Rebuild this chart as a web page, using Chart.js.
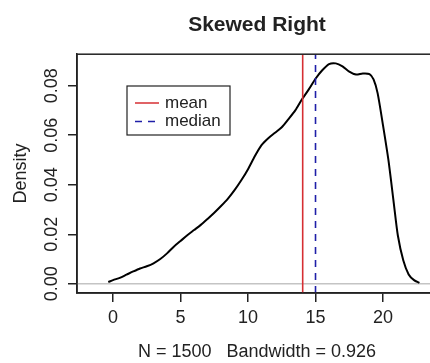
<!DOCTYPE html>
<html>
<head>
<meta charset="utf-8">
<title>Skewed Right</title>
<script src="https://cdn.jsdelivr.net/npm/chart.js@4/dist/chart.umd.min.js"></script>
<style>
    html, body { margin: 0; padding: 0; background: #fff; overflow: hidden; }
    canvas { display: block; }
</style>
</head>
<body>
<canvas id="c" width="445" height="363"></canvas>
<script>
// density estimate
const densityX = [-0.35, 0, 0.5, 1, 1.5, 2, 2.5, 3, 3.5, 4, 4.5, 5, 5.5, 6, 6.5, 7, 7.5, 8, 8.5, 9,
    9.5, 10, 10.5, 11, 11.5, 12, 12.5, 13, 13.5, 14, 14.5, 15, 15.5, 16, 16.5, 17, 17.5, 18, 18.5, 19,
    19.3, 19.6, 20, 20.4, 20.8, 21.1, 21.5, 21.9, 22.3, 22.7];
const densityY = [0.0007, 0.0015, 0.0024, 0.0037, 0.0050, 0.0062, 0.0071, 0.0083, 0.0100, 0.0123,
    0.0150, 0.0173, 0.0196, 0.0217, 0.0238, 0.0262, 0.0287, 0.0314, 0.0343, 0.0378,
    0.0418, 0.0463, 0.0515, 0.0560, 0.0588, 0.0610, 0.0632, 0.0665, 0.0700, 0.0745,
    0.0785, 0.0828, 0.0862, 0.0887, 0.0890, 0.0878, 0.0857, 0.0845, 0.0849, 0.0847,
    0.0825, 0.0770, 0.0640, 0.0500, 0.0325, 0.0195, 0.0095, 0.0038, 0.0015, 0.0004];

const meanValue = 14.05;
const medianValue = 15.0;

const xTicks = [0, 5, 10, 15, 20];
const yTicks = [0, 0.02, 0.04, 0.06, 0.08];
const xRange = [-2.67, 24.0];
const yRange = [-0.0037, 0.0927];

const legendLabels = ['mean', 'median'];

const TITLE = 'Skewed Right';
const X_LABEL = 'N = 1500   Bandwidth = 0.926';
const Y_LABEL = 'Density';

const FONT = "'Liberation Sans', Arial, sans-serif";
const INK = '#222';
const RED = '#d62f33';
const BLUE = '#1f1fa8';

/**
 * Frame round the plot region (R's box())
 */
const boxPlugin = {
    id: 'plotBox',
    afterDraw(chart) {
        const a = chart.chartArea;
        const ctx = chart.ctx;
        ctx.save();
        ctx.strokeStyle = INK;
        ctx.lineWidth = 1.5;
        ctx.strokeRect(a.left, a.top, a.right - a.left, a.bottom - a.top);
        ctx.restore();
    }
};

/**
 * Boxed legend in the upper left of the plot
 */
const legendBoxPlugin = {
    id: 'legendBox',
    afterDraw(chart) {
        const ctx = chart.ctx;
        const box = { x: 127, y: 86, w: 103, h: 49 };
        const styles = [
            { color: RED, dash: [] },
            { color: BLUE, dash: [7, 6] }
        ];
        ctx.save();
        ctx.fillStyle = '#fff';
        ctx.fillRect(box.x, box.y, box.w, box.h);
        ctx.strokeStyle = INK;
        ctx.lineWidth = 1.2;
        ctx.strokeRect(box.x, box.y, box.w, box.h);
        ctx.font = '17px ' + FONT;
        ctx.textBaseline = 'middle';
        legendLabels.forEach((label, i) => {
            const y = 103 + i * 18.5;
            ctx.strokeStyle = styles[i].color;
            ctx.lineWidth = 1.5;
            ctx.setLineDash(styles[i].dash);
            ctx.beginPath();
            ctx.moveTo(135, y);
            ctx.lineTo(159, y);
            ctx.stroke();
            ctx.setLineDash([]);
            ctx.fillStyle = INK;
            ctx.fillText(label, 165, y);
        });
        ctx.restore();
    }
};

const densityPoints = densityX.map((x, i) => ({ x: x, y: densityY[i] }));

new Chart(document.getElementById('c').getContext('2d'), {
    type: 'line',
    data: {
        datasets: [
            {
                label: 'median',
                data: [{ x: medianValue, y: yRange[0] }, { x: medianValue, y: yRange[1] }],
                borderColor: BLUE,
                borderWidth: 1.6,
                borderDash: [7, 6],
                pointRadius: 0
            },
            {
                label: 'mean',
                data: [{ x: meanValue, y: yRange[0] }, { x: meanValue, y: yRange[1] }],
                borderColor: RED,
                borderWidth: 1.6,
                pointRadius: 0
            },
            {
                label: 'density',
                data: densityPoints,
                borderColor: '#000',
                borderWidth: 2,
                pointRadius: 0,
                tension: 0.25
            },
            {
                label: 'zero',
                data: [{ x: xRange[0], y: 0 }, { x: xRange[1], y: 0 }],
                borderColor: '#c4c4c4',
                borderWidth: 1.5,
                pointRadius: 0
            }
        ]
    },
    options: {
        responsive: false,
        animation: false,
        layout: { padding: { left: 0, right: 8, top: 0, bottom: 0 } },
        plugins: {
            legend: { display: false },
            tooltip: { enabled: false },
            title: {
                display: true,
                text: TITLE,
                fullSize: false,
                color: INK,
                font: { family: FONT, size: 21, weight: 'bold', lineHeight: 1.2 },
                padding: { top: 13, bottom: 16 }
            }
        },
        scales: {
            x: {
                type: 'linear',
                min: xRange[0],
                max: xRange[1],
                afterBuildTicks: s => { s.ticks = xTicks.map(v => ({ value: v })); },
                afterFit: s => { s.height = 70; },
                ticks: {
                    color: INK,
                    padding: 5,
                    font: { family: FONT, size: 18 },
                    maxRotation: 0,
                    autoSkip: false
                },
                grid: { drawOnChartArea: false, drawTicks: true, tickLength: 9, color: INK, lineWidth: 1.5 },
                border: { display: true, color: INK, width: 1.5 },
                title: {
                    display: true,
                    text: X_LABEL,
                    color: INK,
                    font: { family: FONT, size: 18 },
                    padding: { top: 0, bottom: 0 }
                }
            },
            y: {
                type: 'linear',
                min: yRange[0],
                max: yRange[1],
                afterBuildTicks: s => { s.ticks = yTicks.map(v => ({ value: v })); },
                afterFit: s => { s.width = 77; },
                ticks: {
                    color: INK,
                    font: { family: FONT, size: 18 },
                    minRotation: 90,
                    maxRotation: 90,
                    crossAlign: 'center',
                    padding: -1.5,
                    autoSkip: false,
                    callback: v => v.toFixed(2)
                },
                grid: { drawOnChartArea: false, drawTicks: true, tickLength: 9, color: INK, lineWidth: 1.5 },
                border: { display: true, color: INK, width: 1.5 },
                title: {
                    display: true,
                    text: Y_LABEL,
                    color: INK,
                    font: { family: FONT, size: 18 },
                    padding: { top: 10, bottom: 0 }
                }
            }
        }
    },
    plugins: [boxPlugin, legendBoxPlugin]
});
</script>
</body>
</html>
